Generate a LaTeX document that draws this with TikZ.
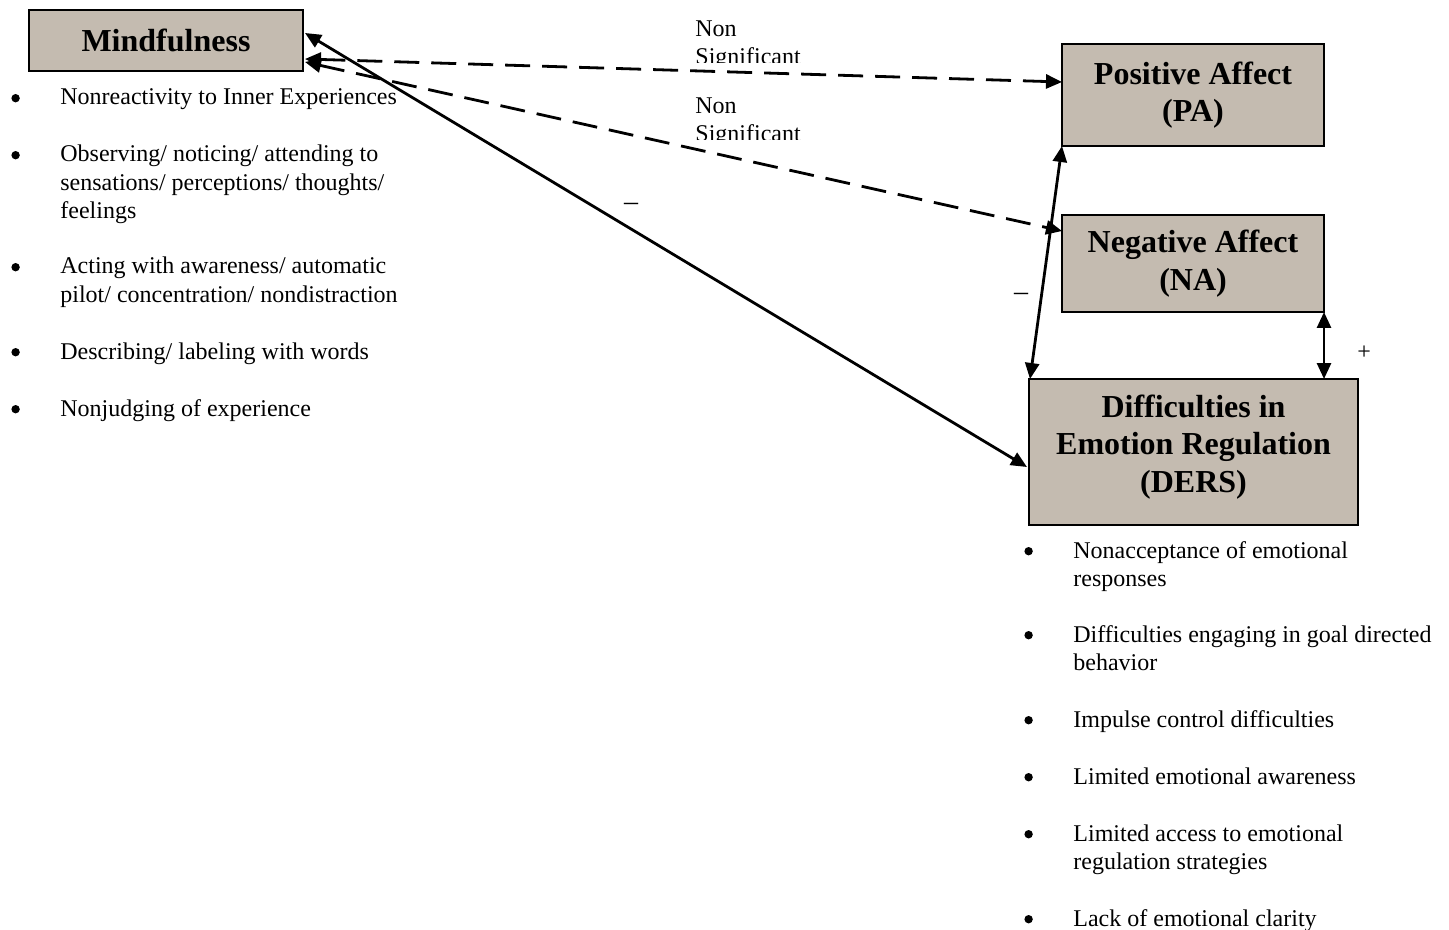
\documentclass[tikz,border=0pt]{standalone}
\usepackage{fontspec}
\setmainfont{Liberation Serif}
\usetikzlibrary{arrows.meta,calc}
\definecolor{boxfill}{RGB}{196,187,176}
\newcommand\bdot{\tikz[baseline=-3.4pt]\fill (0,0) circle[radius=2.1pt];}
\newcommand\bitem[1]{\makebox[24.5pt][l]{\bdot}\begin{tabular}[t]{@{}l@{}}#1\end{tabular}}
\begin{document}
\begin{tikzpicture}[x=0.5pt,y=-0.5pt,
  box/.style={draw=black, line width=1.2pt, fill=boxfill, outer sep=0pt, inner sep=0pt, align=center, font=\fontsize{16}{18.75}\selectfont\bfseries},
  titletext/.style={inner sep=0pt, align=center, font=\fontsize{16}{18.75}\selectfont\bfseries},
  body/.style={font=\fontsize{12}{14.2}\selectfont, inner sep=0pt},
  link/.style={line width=1.4pt, {Triangle[length=8pt,width=7pt]}-{Triangle[length=8pt,width=7pt]}},
  ns/.style={link, dash pattern=on 12.5pt off 6pt}]
\useasboundingbox (0,0) rectangle (1449,930);
% boxes
\node[box, minimum width=137pt, minimum height=30.5pt] (mind) at (166,40.5) {Mindfulness};
\node[box, minimum width=131pt, minimum height=51pt] (pa) at (1193,95) {Positive Affect\\(PA)};
\node[box, minimum width=131pt, minimum height=48.5pt] (na) at (1193,263.5) {Negative Affect\\(NA)};
\node[box, minimum width=164.5pt, minimum height=73pt] (ders) at (1193.5,452) {};
\node[titletext] (derst) at (1193.5,447) {Difficulties in\\Emotion Regulation\\(DERS)};
% connectors
\draw[link] ($(mind.north east)+(2,23)$) -- ($(ders.north west)+(-2,88)$);
\draw[ns] ($(mind.north east)+(2,49)$) -- ($(pa.north west)+(0,38)$);
\draw[ns] ($(mind.north east)+(2,52)$) -- ($(na.north west)+(0,16)$);
\draw[link] (pa.south west) -- ($(ders.north west)+(1,0)$);
\draw[link] (na.south east) -- (na.south east |- ders.north);
% labels
\begin{scope}
\clip (600,10) rectangle (900,63);
\node[body,anchor=base west] (ns1a) at (695,37) {Non};
\node[body,anchor=base west] (ns1b) at (695,64.5) {Significant};
\end{scope}
\begin{scope}
\clip (600,88) rectangle (900,140);
\node[body,anchor=base west] (ns2a) at (695,114) {Non};
\node[body,anchor=base west] (ns2b) at (695,141.5) {Significant};
\end{scope}
\node[body,anchor=base,font=\fontsize{14}{16}\selectfont] (minus1) at (631,211) {–};
\node[body,anchor=base,font=\fontsize{14}{16}\selectfont] (minus2) at (1021,300) {–};
\node[body] (plus1) at (1364,353) {+};
% left list
\node[body,anchor=base west] (l1) at (11,105) {\bitem{Nonreactivity to Inner Experiences}};
\node[body,anchor=base west] (l2) at (11,162) {\bitem{Observing/ noticing/ attending to\\sensations/ perceptions/ thoughts/\\feelings}};
\node[body,anchor=base west] (l3) at (11,274) {\bitem{Acting with awareness/ automatic\\pilot/ concentration/ nondistraction}};
\node[body,anchor=base west] (l4) at (11,359) {\bitem{Describing/ labeling with words}};
\node[body,anchor=base west] (l5) at (11,416) {\bitem{Nonjudging of experience}};
% right list
\node[body,anchor=base west] (r1) at (1024,558) {\bitem{Nonacceptance of emotional\\responses}};
\node[body,anchor=base west] (r2) at (1024,642) {\bitem{Difficulties engaging in goal directed\\behavior}};
\node[body,anchor=base west] (r3) at (1024,727) {\bitem{Impulse control difficulties}};
\node[body,anchor=base west] (r4) at (1024,784) {\bitem{Limited emotional awareness}};
\node[body,anchor=base west] (r5) at (1024,841) {\bitem{Limited access to emotional\\regulation strategies}};
\node[body,anchor=base west] (r6) at (1024,926) {\bitem{Lack of emotional clarity}};
\end{tikzpicture}
\end{document}
